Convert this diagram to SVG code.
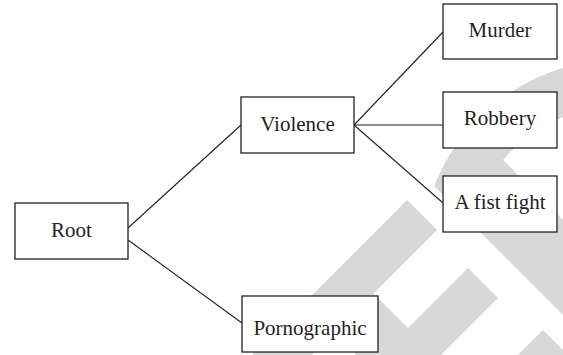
<svg xmlns="http://www.w3.org/2000/svg" width="563" height="355" viewBox="0 0 563 355">
<style>
.wm{fill:#d7d7d7;stroke:none}
.box{fill:#ffffff;stroke:#231f20;stroke-width:1.3}
.lbl{font-family:"Liberation Serif","Times New Roman",serif;font-size:21px;fill:#231f20;text-anchor:middle}
.edge{stroke:#231f20;stroke-width:1.1;fill:none}
</style>
<rect width="563" height="355" fill="#ffffff"/>
<g id="watermark">
<path class="wm" d="M563,68 A200,200 0 0 0 434.1,186.1 L563,315 L563,220 L503,160 A154,154 0 0 1 563,117 Z"/>
<polygon class="wm" points="407,200 437,230 312,355 252,355"/>
<polygon class="wm" points="373.5,293.5 435,355 356,355 334,333"/>
<polygon class="wm" points="468,268 498,298 441,355 381,355"/>
<polygon class="wm" points="543,330 573,360 548,385 488,385"/>
</g>
<g id="connectors">
<line class="edge" x1="128" y1="228" x2="241" y2="125"/>
<line class="edge" x1="128" y1="240" x2="242" y2="323"/>
<line class="edge" x1="354" y1="125" x2="443" y2="32"/>
<line class="edge" x1="354" y1="125" x2="443" y2="125"/>
<line class="edge" x1="354" y1="125" x2="443" y2="203"/>
</g>
<g id="root">
<rect class="box" x="15" y="203" width="113" height="56"/>
<text class="lbl" x="71.5" y="237">Root</text>
</g>
<g id="violence">
<rect class="box" x="241" y="97" width="113" height="56"/>
<text class="lbl" x="297.5" y="131">Violence</text>
</g>
<g id="murder">
<rect class="box" x="443" y="4" width="114" height="55"/>
<text class="lbl" x="500" y="37">Murder</text>
</g>
<g id="robbery">
<rect class="box" x="443" y="92" width="114" height="56"/>
<text class="lbl" x="500" y="125">Robbery</text>
</g>
<g id="fistfight">
<rect class="box" x="443" y="176" width="114" height="56"/>
<text class="lbl" x="500" y="209">A fist fight</text>
</g>
<g id="pornographic">
<rect class="box" x="242" y="296" width="136" height="56"/>
<text class="lbl" x="310" y="335">Pornographic</text>
</g>
</svg>
